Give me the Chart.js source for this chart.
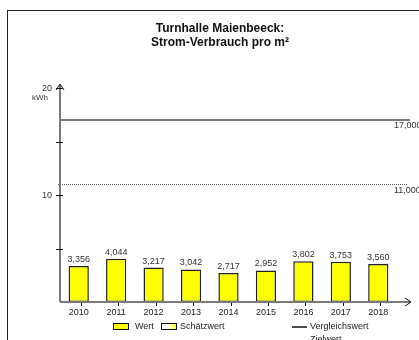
<!DOCTYPE html>
<html>
<head>
<meta charset="utf-8">
<script src="https://cdn.jsdelivr.net/npm/chart.js@4"></script>
<style>
    html, body { margin: 0; padding: 0; background: #ffffff; }
    canvas { display: block; }
</style>
</head>
<body>
<canvas id="energyChart" width="419" height="340"></canvas>
<script>
// --- chart data ---
const titleLines = ["Turnhalle Maienbeeck:", "Strom-Verbrauch pro m²"];
const years = ["2010", "2011", "2012", "2013", "2014", "2015", "2016", "2017", "2018"];
const consumption = [3.356, 4.044, 3.217, 3.042, 2.717, 2.952, 3.802, 3.753, 3.560];
const referenceValue = 17;   // Vergleichswert
const targetValue = 11;      // Zielwert
const yTicks = [5, 10, 15, 20];
const yTickLabels = { 10: "10", 20: "20" };
const yUnit = "kWh";
const legendLabels = ["Wert", "Schätzwert", "Vergleichswert", "Zielwert"];

const FONT = '"Liberation Sans", Arial, sans-serif';
const fmt = v => v.toFixed(3).replace(".", ",");

const decorPlugin = {
    id: "decor",
    afterDatasetsDraw(chart) {
        const ctx = chart.ctx;
        const area = chart.chartArea;
        const y = chart.scales.y;
        ctx.save();

        // outer frame (open to the right / bottom)
        ctx.strokeStyle = "#222";
        ctx.lineWidth = 1;
        ctx.strokeRect(7.5, 10.5, 600, 600);

        // title
        ctx.fillStyle = "#111";
        ctx.font = "bold 12px " + FONT;
        ctx.textAlign = "center";
        ctx.textBaseline = "middle";
        ctx.fillText(titleLines[0], 220, 29);
        ctx.fillText(titleLines[1], 220, 43);

        // reference line (Vergleichswert)
        const yRef = Math.round(y.getPixelForValue(referenceValue));
        ctx.strokeStyle = "#7a7a7a";
        ctx.lineWidth = 2;
        ctx.beginPath();
        ctx.moveTo(area.left, yRef);
        ctx.lineTo(area.right + 13, yRef);
        ctx.stroke();

        // target line (Zielwert)
        const yTgt = Math.round(y.getPixelForValue(targetValue)) + 0.5;
        ctx.strokeStyle = "#555";
        ctx.lineWidth = 1;
        ctx.setLineDash([1, 1]);
        ctx.beginPath();
        ctx.moveTo(area.left - 2, yTgt);
        ctx.lineTo(area.right + 11, yTgt);
        ctx.stroke();
        ctx.setLineDash([]);

        ctx.fillStyle = "#333";
        ctx.font = "9px " + FONT;
        ctx.textAlign = "left";
        ctx.textBaseline = "middle";
        ctx.fillText(fmt(referenceValue), area.right - 3, yRef + 6);
        ctx.fillText(fmt(targetValue), area.right - 3, yTgt + 6);

        // axes
        ctx.strokeStyle = "#7a7a7a";
        ctx.lineWidth = 2;
        ctx.beginPath();
        ctx.moveTo(area.left, area.bottom);
        ctx.lineTo(area.left, area.top - 3);
        ctx.moveTo(area.left, area.bottom);
        ctx.lineTo(area.right + 13, area.bottom);
        ctx.stroke();

        // arrow heads
        ctx.strokeStyle = "#111";
        ctx.lineWidth = 1;
        ctx.beginPath();
        ctx.moveTo(area.left - 4, area.top + 2);
        ctx.lineTo(area.left, area.top - 4);
        ctx.lineTo(area.left + 4, area.top + 2);
        ctx.moveTo(area.right + 8, area.bottom - 4);
        ctx.lineTo(area.right + 14, area.bottom);
        ctx.lineTo(area.right + 8, area.bottom + 4);
        ctx.stroke();

        // y ticks and labels
        ctx.fillStyle = "#333";
        ctx.font = "9px " + FONT;
        ctx.textAlign = "right";
        yTicks.forEach(t => {
            const py = Math.round(y.getPixelForValue(t)) + 0.5;
            ctx.beginPath();
            ctx.moveTo(area.left - 4, py);
            ctx.lineTo(area.left + 3, py);
            ctx.stroke();
            if (yTickLabels[t]) ctx.fillText(yTickLabels[t], area.left - 8, py);
        });
        ctx.font = "8px " + FONT;
        ctx.fillText(yUnit, area.left - 12, y.getPixelForValue(20) + 10);

        // x ticks, year labels, value labels
        const meta = chart.getDatasetMeta(0);
        meta.data.forEach((bar, i) => {
            const tx = Math.round(bar.x) + 2.5;
            ctx.strokeStyle = "#111";
            ctx.lineWidth = 1;
            ctx.beginPath();
            ctx.moveTo(tx, area.bottom + 1);
            ctx.lineTo(tx, area.bottom + 4);
            ctx.stroke();

            ctx.font = "9px " + FONT;
            ctx.textAlign = "center";
            ctx.textBaseline = "middle";
            ctx.fillStyle = "#222";
            ctx.fillText(years[i], bar.x, area.bottom + 11);
            ctx.fillStyle = "#333";
            ctx.textBaseline = "bottom";
            ctx.fillText(fmt(consumption[i]), bar.x, bar.y - 2);
        });

        // legend
        const ly = 327;
        ctx.lineWidth = 1;
        ctx.strokeStyle = "#111";
        ctx.fillStyle = "#ffff00";
        ctx.fillRect(113.5, ly - 3.5, 15, 6);
        ctx.strokeRect(113.5, ly - 3.5, 15, 6);
        const grad = ctx.createLinearGradient(161, 0, 176, 0);
        grad.addColorStop(0, "#ffffff");
        grad.addColorStop(0.6, "#ffffe0");
        grad.addColorStop(1, "#ffff00");
        ctx.fillStyle = grad;
        ctx.fillRect(161.5, ly - 3.5, 15, 6);
        ctx.strokeRect(161.5, ly - 3.5, 15, 6);

        ctx.strokeStyle = "#111";
        ctx.lineWidth = 1.5;
        ctx.beginPath();
        ctx.moveTo(292, ly);
        ctx.lineTo(307, ly);
        ctx.stroke();
        ctx.strokeStyle = "#bbb";
        ctx.lineWidth = 1;
        ctx.setLineDash([1, 1]);
        ctx.beginPath();
        ctx.moveTo(292, ly + 13.5);
        ctx.lineTo(307, ly + 13.5);
        ctx.stroke();
        ctx.setLineDash([]);

        ctx.fillStyle = "#222";
        ctx.font = "9px " + FONT;
        ctx.textAlign = "left";
        ctx.textBaseline = "middle";
        ctx.fillText(legendLabels[0], 135, ly);
        ctx.fillText(legendLabels[1], 180, ly);
        ctx.fillText(legendLabels[2], 310, ly);
        ctx.fillText(legendLabels[3], 310, ly + 13);

        ctx.restore();
    }
};

new Chart(document.getElementById("energyChart"), {
    type: "bar",
    data: {
        labels: years,
        datasets: [{
            label: legendLabels[0],
            data: consumption,
            backgroundColor: "#ffff00",
            borderColor: "#222222",
            borderWidth: 1.5,
            borderSkipped: false,
            barPercentage: 0.54,
            categoryPercentage: 1
        }]
    },
    options: {
        responsive: false,
        animation: false,
        layout: { padding: { left: 60, right: 22, top: 88, bottom: 38 } },
        scales: {
            x: { display: false },
            y: { display: false, min: 0, max: 20 }
        },
        plugins: {
            legend: { display: false },
            title: { display: false },
            tooltip: { enabled: false }
        }
    },
    plugins: [decorPlugin]
});
</script>
</body>
</html>
